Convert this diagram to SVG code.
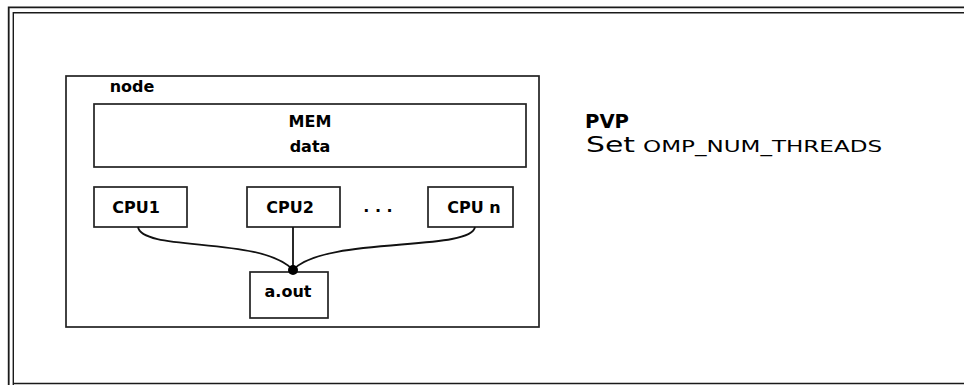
<svg xmlns="http://www.w3.org/2000/svg" width="964" height="385" viewBox="0 0 964 385">
  <style>
    .box { fill: #ffffff; stroke: #222222; stroke-width: 1.7; }
    .frame { fill: none; stroke: #1a1a1a; }
    .wire { fill: none; stroke: #111111; stroke-width: 1.8; }
    .lbl { font-family: "DejaVu Sans", "Liberation Sans", sans-serif; font-weight: bold; font-size: 16px; fill: #000000; text-anchor: middle; }
  </style>
  <rect width="964" height="385" fill="#ffffff"/>

  <!-- page frame: double rule on top and left, single rule at bottom -->
  <g id="frame">
    <path class="frame" stroke-width="1.8" d="M8.7,385 V7.3 H964"/>
    <path class="frame" stroke-width="1.4" stroke="#444444" d="M13.3,385 V12.7 H964"/>
    <path class="frame" stroke-width="1.6" stroke="#333333" d="M13,383.5 H964"/>
  </g>

  <!-- compute node enclosure -->
  <g id="node">
    <rect class="box" x="66" y="76" width="473" height="251"/>
    <text class="lbl" x="132" y="92">node</text>
  </g>

  <g id="mem">
    <rect class="box" x="94" y="104" width="432" height="63"/>
    <text class="lbl" x="310" y="127">MEM</text>
    <text class="lbl" x="310" y="152">data</text>
  </g>

  <g id="cpu1">
    <rect class="box" x="94" y="187" width="93" height="40"/>
    <text class="lbl" x="136" y="213">CPU1</text>
  </g>

  <g id="cpu2">
    <rect class="box" x="247" y="187" width="93" height="40"/>
    <text class="lbl" x="290" y="213">CPU2</text>
  </g>

  <g id="ellipsis">
    <text class="lbl" x="378" y="212">. . .</text>
  </g>

  <g id="cpun">
    <rect class="box" x="428" y="187" width="85" height="40"/>
    <text class="lbl" x="474" y="213">CPU n</text>
  </g>

  <g id="aout">
    <rect class="box" x="250" y="272" width="78" height="46"/>
    <text class="lbl" x="288" y="297">a.out</text>
  </g>

  <!-- connectors from each CPU to the shared executable -->
  <g id="connectors">
    <path class="wire" d="M138,227 C142,252 262,236 293,270"/>
    <path class="wire" d="M293,227 V270"/>
    <path class="wire" d="M475,227 C471,252 324,236 293,270"/>
    <circle cx="293" cy="270" r="5" fill="#000000"/>
  </g>

  <!-- model description -->
  <g id="caption" font-family="'DejaVu Sans', 'Liberation Sans', sans-serif" fill="#000000">
    <text x="585" y="128" font-size="20" font-weight="bold" textLength="44" lengthAdjust="spacingAndGlyphs">PVP</text>
    <text x="586" y="152" font-size="22" textLength="49" lengthAdjust="spacingAndGlyphs">Set</text>
    <text x="643" y="152" font-size="16.5" textLength="239" lengthAdjust="spacingAndGlyphs">OMP_NUM_THREADS</text>
  </g>
</svg>
